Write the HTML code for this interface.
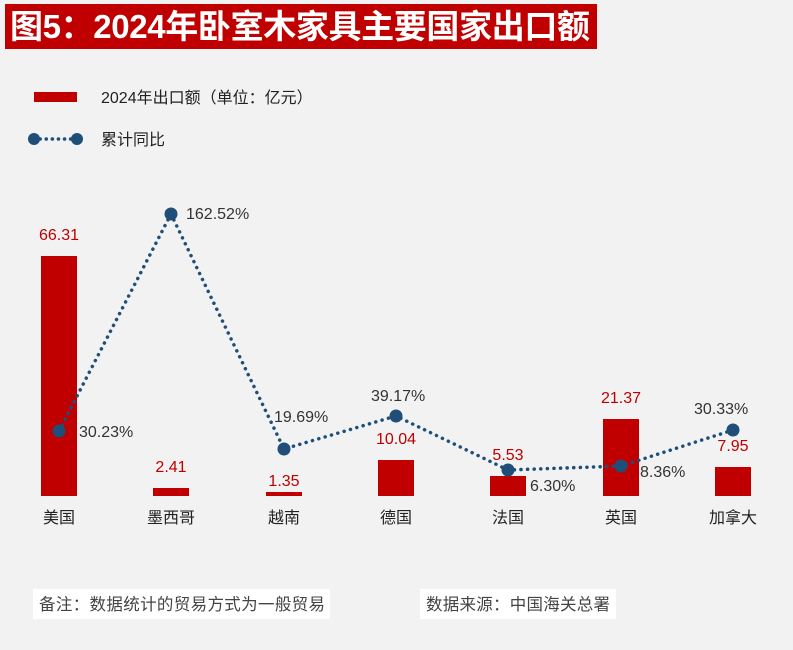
<!DOCTYPE html><html><head><meta charset="utf-8"><style>
body{margin:0;width:793px;height:650px;background:#f2f2f2;overflow:hidden;font-family:"Liberation Sans","Noto Sans CJK SC",sans-serif;}
</style></head><body>
<svg width="793" height="650" xmlns="http://www.w3.org/2000/svg" style="position:absolute;left:0;top:0;font-family:'Liberation Sans','Noto Sans CJK SC',sans-serif">
<rect x="5" y="4" width="592" height="45" fill="#c00000"/>
<text x="10" y="38" fill="#fff" font-size="33" font-weight="bold" textLength="580">图5：2024年卧室木家具主要国家出口额</text>
<rect x="34" y="92" width="43" height="10" fill="#c00000"/>
<text x="101" y="103" font-size="16" fill="#222">2024年出口额（单位：亿元）</text>
<line x1="34" y1="139" x2="77" y2="139" stroke="#1f4e79" stroke-width="3.5" stroke-dasharray="0.1,6" stroke-linecap="round"/>
<circle cx="34" cy="139" r="6" fill="#1f4e79"/><circle cx="77" cy="139" r="6" fill="#1f4e79"/>
<text x="101" y="145" font-size="16" fill="#222">累计同比</text>
<g fill="#c00000">
<rect x="41" y="256" width="36" height="240"/>
<rect x="153" y="488" width="36" height="8"/>
<rect x="266" y="492" width="36" height="4"/>
<rect x="378" y="460" width="36" height="36"/>
<rect x="490" y="476" width="36" height="20"/>
<rect x="603" y="419" width="36" height="77"/>
<rect x="715" y="467" width="36" height="29"/>
</g>
<g fill="#c00000" font-size="16" text-anchor="middle">
<text x="59" y="240">66.31</text><text x="171" y="472">2.41</text><text x="284" y="486">1.35</text>
<text x="396" y="444">10.04</text><text x="508" y="460">5.53</text><text x="621" y="403">21.37</text><text x="733" y="451">7.95</text>
</g>
<polyline points="59,431 171,214 284,449 396,416 508,470 621,466 733,430" fill="none" stroke="#1f4e79" stroke-width="3.5" stroke-dasharray="0.1,6.5" stroke-linecap="round"/>
<g fill="#1f4e79">
<circle cx="59" cy="431" r="6.5"/><circle cx="171" cy="214" r="6.5"/><circle cx="284" cy="449" r="6.5"/><circle cx="396" cy="416" r="6.5"/><circle cx="508" cy="470" r="6.5"/><circle cx="621" cy="466" r="6.5"/><circle cx="733" cy="430" r="6.5"/>
</g>
<g fill="#333" font-size="16">
<text x="79" y="437">30.23%</text><text x="186" y="219">162.52%</text><text x="274" y="422">19.69%</text>
<text x="371" y="401">39.17%</text><text x="530" y="491">6.30%</text><text x="640" y="477">8.36%</text><text x="694" y="414">30.33%</text>
</g>
<g fill="#222" font-size="16" text-anchor="middle">
<text x="59" y="523">美国</text><text x="171" y="523">墨西哥</text><text x="284" y="523">越南</text><text x="396" y="523">德国</text><text x="508" y="523">法国</text><text x="621" y="523">英国</text><text x="733" y="523">加拿大</text>
</g>
<rect x="33" y="589" width="297" height="30" fill="#fff"/>
<text x="39" y="610" font-size="16.5" fill="#444" textLength="286">备注：数据统计的贸易方式为一般贸易</text>
<rect x="420" y="589" width="196" height="30" fill="#fff"/>
<text x="426" y="610" font-size="16.5" fill="#444" textLength="184">数据来源：中国海关总署</text>
</svg>
</body></html>
